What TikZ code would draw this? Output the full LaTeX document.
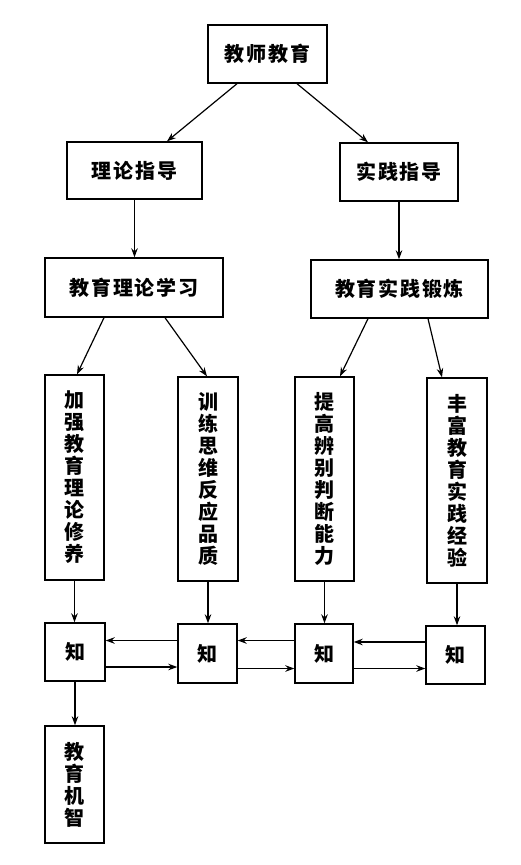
\documentclass[tikz,border=0pt]{standalone}
\usepackage{fontspec}
\newfontfamily\cjk{Noto Sans CJK SC}[LetterSpace=9]
\usetikzlibrary{arrows.meta}
\tikzset{
  box/.style={draw,line width=1.4pt,inner sep=0pt,align=center,
    font=\cjk\bfseries\fontsize{20}{22}\selectfont},
  arr/.style={line width=1.2pt,-{Stealth[length=9pt,width=6.5pt]}}
}
\begin{document}
\begin{tikzpicture}[x=1pt,y=-1pt]
        \useasboundingbox (0,0) rectangle (520,865);
        % top rows
        \node[box,minimum width=119pt,minimum height=58pt] (jsjy) at (267.5,54) {教师教育};
        \node[box,minimum width=135pt,minimum height=57pt] (llzd) at (134.5,170.5) {理论指导};
        \node[box,minimum width=118pt,minimum height=58pt] (sjzd) at (399,172) {实践指导};
        \node[box,minimum width=178pt,minimum height=59pt] (llxx) at (134,287.5) {教育理论学习};
        \node[box,minimum width=177pt,minimum height=58pt] (sjdl) at (399.5,289) {教育实践锻炼};
        % vertical boxes
        \node[box,minimum width=59pt,minimum height=205pt] (v1) at (74.5,477.5) {加\\强\\教\\育\\理\\论\\修\\养};
        \node[box,minimum width=60pt,minimum height=204pt] (v2) at (208,479) {训\\练\\思\\维\\反\\应\\品\\质};
        \node[box,minimum width=59pt,minimum height=204pt] (v3) at (324.5,479) {提\\高\\辨\\别\\判\\断\\能\\力};
        \node[box,minimum width=60pt,minimum height=205pt] (v4) at (457,480.5) {丰\\富\\教\\育\\实\\践\\经\\验};
        % zhi row
        \node[box,minimum width=60pt,minimum height=58pt] (z1) at (75,652) {知};
        \node[box,minimum width=59pt,minimum height=59pt] (z2) at (207.5,653.5) {知};
        \node[box,minimum width=58pt,minimum height=59pt] (z3) at (324,653.5) {知};
        \node[box,minimum width=59pt,minimum height=58pt] (z4) at (455.5,655) {知};
        \node[box,minimum width=59pt,minimum height=117pt] (jyjz) at (74.5,784.5) {教\\育\\机\\智};
        % connectors
        \draw[arr] ([xshift=-30.5pt]jsjy.south) -- ([xshift=32.5pt]llzd.north);
        \draw[arr] ([xshift=29.5pt]jsjy.south) -- ([xshift=-31pt]sjzd.north);
        \draw[arr] (llzd.south) -- (llzd.south |- llxx.north);
        \draw[arr] (sjzd.south) -- (sjzd.south |- sjdl.north);
        \draw[arr] ([xshift=-30pt]llxx.south) -- ([xshift=2.5pt]v1.north);
        \draw[arr] ([xshift=31pt]llxx.south) -- ([xshift=-1pt]v2.north);
        \draw[arr] ([xshift=-31.5pt]sjdl.south) -- ([xshift=15.5pt]v3.north);
        \draw[arr] ([xshift=28.5pt]sjdl.south) -- ([xshift=-15pt]v4.north);
        \foreach \i in {1,2,3,4}
          \draw[arr] (v\i.south) -- (v\i.south |- z\i.north);
        \foreach \a/\b in {z1/z2,z2/z3,z3/z4} {
          \draw[arr] ([yshift=13pt]\b.west) -- ([yshift=13pt]\b.west -| \a.east);
          \draw[arr] ([yshift=-15pt]\a.east) -- ([yshift=-15pt]\a.east -| \b.west);
        }
        \draw[arr] (z1.south) -- (z1.south |- jyjz.north);
    \end{tikzpicture}
\end{document}
